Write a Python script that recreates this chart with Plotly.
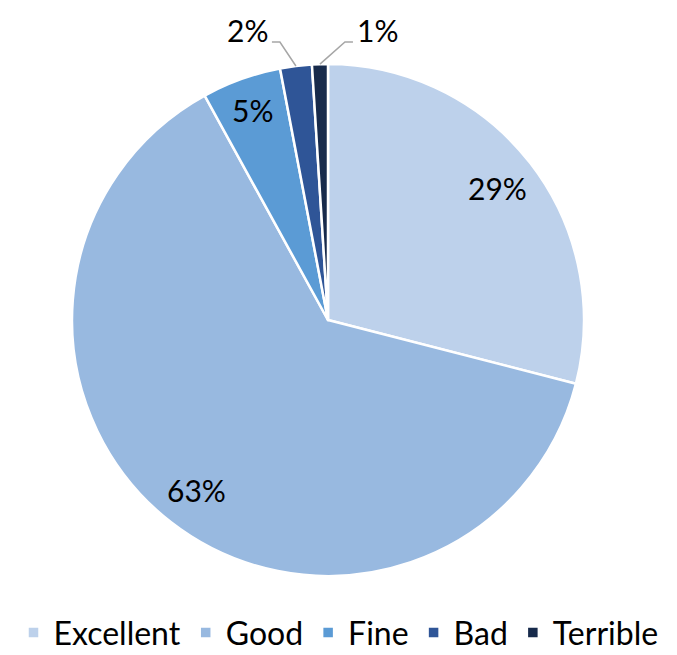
import math
import plotly.graph_objects as go

categories = ["Excellent", "Good", "Fine", "Bad", "Terrible"]
values = [29, 63, 5, 2, 1]
label_texts = ["29%", "63%", "5%", "2%", "1%"]

colors = ["#BDD1EB", "#98B9E0", "#5B9BD5", "#2F5597", "#172A4B"]

W, H = 677, 655
CX, CY, R = 328, 320, 256
FONT = "Lato"

def px(x):
    return x / W

def py(y):
    return 1 - y / H

fig = go.Figure(go.Pie(
    labels=categories,
    values=values,
    sort=False,
    direction="clockwise",
    rotation=0,
    textinfo="none",
    hoverinfo="label+percent",
    marker=dict(colors=colors, line=dict(color="white", width=2.5)),
    domain=dict(x=[px(CX - R), px(CX + R)], y=[py(CY + R), py(CY - R)]),
))

total = sum(values)
# label placement style: ("in", radius factor) or ("out", elbow dx, side)
placement = [("in", 0.84), ("in", 0.84), ("in", 0.87), ("out", -16, -1), ("out", 25, 1)]

annotations = []
shapes = []
cum = 0.0
for v, txt, pl in zip(values, label_texts, placement):
    mid = (cum + v / 2) / total * 2 * math.pi
    cum += v
    if pl[0] == "in":
        r = R * pl[1]
        x = CX + r * math.sin(mid)
        y = CY - r * math.cos(mid)
        annotations.append(dict(x=px(x), y=py(y), xref="paper", yref="paper",
                                text=txt, showarrow=False,
                                font=dict(family=FONT, size=30, color="black"),
                                xanchor="center", yanchor="middle"))
    else:
        _, edx, side = pl
        ex = CX + R * math.sin(mid)
        ey = CY - R * math.cos(mid)
        elx = ex + edx
        ely = CY - 278
        hx = elx + side * 8
        shapes.append(dict(type="path", xref="paper", yref="paper",
                           path=f"M {px(ex)} {py(ey)} L {px(elx)} {py(ely)} L {px(hx)} {py(ely)}",
                           line=dict(color="#A6A6A6", width=1.5)))
        annotations.append(dict(x=px(hx + side * 3), y=py(ely - 12), xref="paper", yref="paper",
                                text=txt, showarrow=False,
                                font=dict(family=FONT, size=30, color="black"),
                                xanchor="left" if side > 0 else "right", yanchor="middle",
                                borderpad=0))

fig.update_layout(
    width=W, height=H,
    margin=dict(l=0, r=0, t=0, b=0, autoexpand=False),
    paper_bgcolor="white",
    plot_bgcolor="white",
    showlegend=True,
    legend=dict(orientation="h", x=0.5, xanchor="center", y=-0.008, yanchor="bottom",
                font=dict(family=FONT, size=32, color="black"),
                itemclick=False),
    annotations=annotations,
    shapes=shapes,
)

fig.write_html("out.html", config={"displayModeBar": False},
               post_script="document.body.style.margin='0';")
